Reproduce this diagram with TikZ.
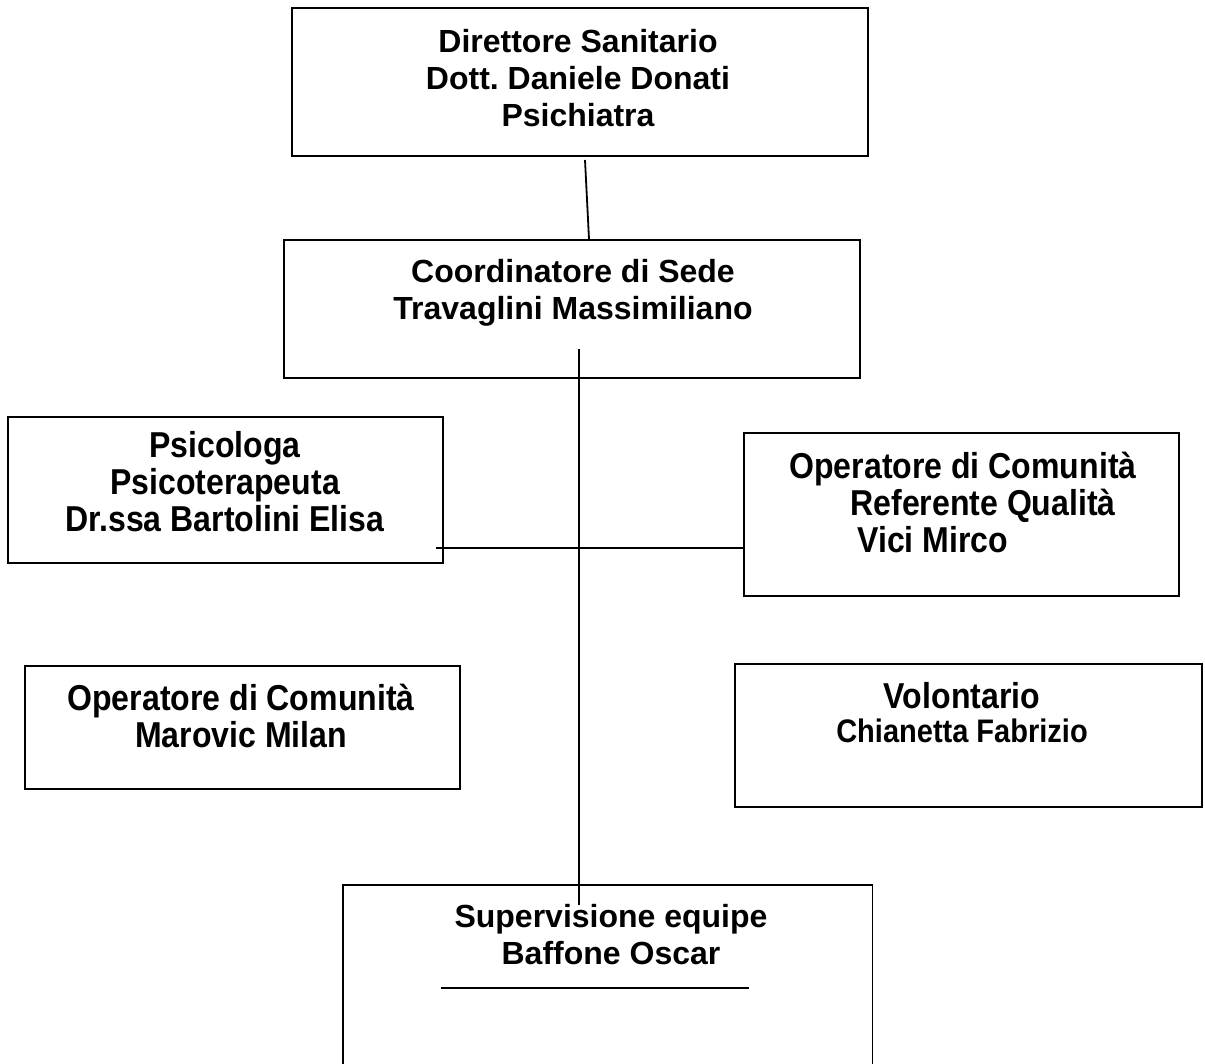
\documentclass[tikz,border=0pt]{standalone}
\usepackage{fontspec}
\setmainfont{Liberation Sans}
\newfontfamily\narrowfont[FakeStretch=0.89]{Liberation Sans}
\usetikzlibrary{calc}
\frenchspacing

\begin{document}
\begin{tikzpicture}[
    x=0.5pt, y=-0.5pt,
    box/.style={rectangle, draw=black, line width=0.9pt, inner sep=0pt},
    wide/.style={inner sep=0pt, align=center, font=\bfseries\fontsize{16pt}{18.5pt}\selectfont},
    narrow/.style={inner sep=0pt, align=center, font=\narrowfont\bfseries\fontsize{18pt}{18.5pt}\selectfont},
    link/.style={line width=0.9pt}
]
\useasboundingbox (0,0) rectangle (1205,1064);

% Top
\node[box, minimum width=288pt, minimum height=74pt] (dir) at (580,82) {};
\node[wide, anchor=north] (dirtext) at (578,29) {Direttore Sanitario\\Dott. Daniele Donati\\Psichiatra};

% Coordinator
\node[box, minimum width=288pt, minimum height=69pt] (coord) at (572,309) {};
\node[wide, anchor=north] (coordtext) at (573,259) {Coordinatore di Sede\\Travaglini Massimiliano};

% Staff
\node[box, minimum width=217.5pt, minimum height=73pt] (psic) at (225.5,490) {};
\node[narrow, anchor=north] (psictext) at (225,431) {Psicologa\\Psicoterapeuta\\Dr.ssa Bartolini Elisa};

\node[box, minimum width=217.5pt, minimum height=81.5pt] (oper) at (961.5,514.5) {};
\node[narrow, align=left, anchor=north west] (opertext) at (789,452) {Operatore di Comunità\\\hspace*{30.5pt}Referente Qualità\\\hspace*{34pt}Vici Mirco};

\node[box, minimum width=217.5pt, minimum height=61.5pt] (marov) at (242.5,727.5) {};
\node[narrow, anchor=north] (marovtext) at (241,684) {Operatore di Comunità\\Marovic Milan};

\node[box, minimum width=233.5pt, minimum height=71.5pt] (volon) at (968.5,735.5) {};
\node[narrow, anchor=north, font=\narrowfont\bfseries\fontsize{18pt}{17pt}\selectfont] (volontext) at (962,682) {Volontario\\{\fontsize{16.3pt}{17pt}\selectfont Chianetta Fabrizio}};

% Supervision (open at the bottom)
\node[inner sep=0pt, minimum width=264.5pt, minimum height=89.5pt] (sup) at (607.5,974.5) {};
\draw[link] (sup.south west) -- (sup.north west) -- (sup.north east) -- (sup.south east);
\node[wide, anchor=north] (suptext) at (611,904) {Supervisione equipe\\Baffone Oscar};
\draw[link] ($(sup.north west)+(98,103)$) -- ($(sup.north east)+(-123,103)$);

% Connections
\coordinate (linktop) at (585,160);
\draw[link] (linktop) -- ([xshift=8.5pt]coord.north);
\coordinate (trunktop) at (579,349);
\coordinate (trunkend) at (579,905);
\draw[link] (trunktop) -- (trunkend);
\coordinate (branch) at (436,548);
\draw[link] (branch) -- (branch -| oper.west);

\end{tikzpicture}
\end{document}
